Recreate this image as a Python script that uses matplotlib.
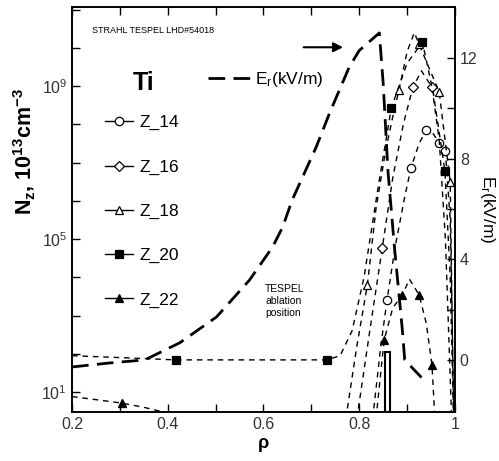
import numpy as np
import matplotlib
matplotlib.use('Agg')
import matplotlib.pyplot as plt
from matplotlib.lines import Line2D
from matplotlib.ticker import FixedLocator, NullFormatter, LogFormatterMathtext

plt.rcParams['font.family'] = ['Liberation Sans', 'DejaVu Sans']
plt.rcParams['mathtext.default'] = 'regular'


### Data (rho, log10 of N_z in 1e13 cm^-3)

z14_rho = [0.828, 0.845, 0.858, 0.875, 0.895, 0.908, 0.925, 0.940, 0.955, 0.967, 0.980, 0.990, 0.998]
z14_logn = [0.3, 2.2, 3.4, 4.8, 6.1, 6.86, 7.5, 7.85, 7.75, 7.5, 7.3, 5.5, 0.3]
z14_marks = [2, 5, 7, 9, 10]

z16_rho = [0.795, 0.822, 0.848, 0.870, 0.892, 0.912, 0.930, 0.952, 0.967, 0.980, 0.993]
z16_logn = [0.3, 2.6, 4.76, 6.6, 8.0, 8.97, 9.4, 8.97, 7.6, 5.0, 0.3]
z16_marks = [2, 5, 7]

z18_rho = [0.772, 0.795, 0.817, 0.835, 0.855, 0.870, 0.883, 0.900, 0.915, 0.925, 0.945, 0.967, 0.990, 0.997]
z18_logn = [0.3, 2.2, 3.8, 5.8, 7.3, 8.2, 8.9, 9.9, 10.4, 10.1, 9.5, 8.85, 6.5, 0.3]
z18_marks = [2, 6, 9, 11, 12]

z20_rho = [0.2, 0.30, 0.417, 0.55, 0.65, 0.733, 0.76, 0.785, 0.81, 0.84, 0.867, 0.90, 0.932, 0.955, 0.979, 0.99, 0.997]
z20_logn = [1.95, 1.9, 1.84, 1.84, 1.84, 1.84, 1.95, 2.6, 4.0, 6.4, 8.43, 9.6, 10.15, 8.8, 6.78, 4.0, 0.3]
z20_marks = [2, 5, 10, 12, 14]

# Z_22 falls below the axis between core and edge
z22_core_rho = [0.2, 0.25, 0.304, 0.35, 0.39, 0.42]
z22_core_logn = [0.88, 0.8, 0.71, 0.6, 0.48, 0.3]
z22_core_marks = [2]
z22_edge_rho = [0.835, 0.852, 0.870, 0.890, 0.905, 0.925, 0.940, 0.952, 0.958]
z22_edge_logn = [0.3, 2.36, 3.2, 3.54, 3.95, 3.54, 2.8, 1.7, 0.3]
z22_edge_marks = [1, 3, 5, 7]

# Radial electric field, kV/m
er_rho = [0.2, 0.279, 0.352, 0.425, 0.502, 0.571, 0.619, 0.64, 0.66, 0.71, 0.738,
          0.779, 0.80, 0.842, 0.85, 0.86, 0.873, 0.88, 0.89, 0.895, 0.93]
er_kvm = [-0.28, -0.12, 0.0, 0.68, 1.71, 3.18, 4.49, 5.28, 6.36, 8.46, 9.81,
          11.64, 12.3, 13.0, 11.0, 7.5, 4.6, 3.2, 1.2, 0.0, -0.7]

tespel_rho = 0.859
tespel_top = 0.3


### Plot

fig = plt.figure(figsize=(4.99, 4.61), dpi=100)
ax = fig.add_axes([0.1443, 0.1063, 0.7675, 0.8785])
ax2 = ax.twinx()

zdash = (4, 3.5)
series = [
    ('Z_14', z14_rho, z14_logn, z14_marks, 'o', 'white'),
    ('Z_16', z16_rho, z16_logn, z16_marks, 'D', 'white'),
    ('Z_18', z18_rho, z18_logn, z18_marks, '^', 'white'),
    ('Z_20', z20_rho, z20_logn, z20_marks, 's', 'black'),
    ('Z_22', z22_edge_rho, z22_edge_logn, z22_edge_marks, '^', 'black'),
]
handles = []
for name, rho, logn, marks, mk, fc in series:
    ms = 5 if mk == 'D' else 6
    ax.plot(rho, 10 ** np.array(logn), color='black', lw=1.0, dashes=zdash,
            marker=mk, markevery=marks, ms=ms, mfc=fc, mec='black', mew=0.9)
    handles.append(Line2D([], [], color='black', lw=1.0, marker=mk, ms=ms,
                          mfc=fc, mec='black', mew=0.9))
ax.plot(z22_core_rho, 10 ** np.array(z22_core_logn), color='black', lw=1.0, dashes=zdash,
        marker='^', markevery=z22_core_marks, ms=6, mfc='black', mec='black')

ax.set_yscale('log')
ax.set_xlim(0.2, 1.0)
ax.set_ylim(10 ** 0.477, 10 ** 11.07)
ax.xaxis.set_major_locator(FixedLocator([0.2, 0.4, 0.6, 0.8, 1.0]))
ax.xaxis.set_minor_locator(FixedLocator([0.3, 0.5, 0.7, 0.9]))
ax.set_xticklabels(['0.2', '0.4', '0.6', '0.8', '1'])
ax.yaxis.set_major_locator(FixedLocator([1e1, 1e5, 1e9]))
ax.yaxis.set_minor_locator(FixedLocator([10.0 ** k for k in range(0, 12)]))
ax.yaxis.set_major_formatter(LogFormatterMathtext())
ax.yaxis.set_minor_formatter(NullFormatter())
ax.tick_params(which='both', direction='in', length=6, width=1, top=True,
               labelsize=11.5, labelcolor='#333333')
ax.set_xlabel('ρ', fontsize=13, fontweight='bold', labelpad=2)
ax.set_ylabel('N$_z$, 10$^{13}$cm$^{-3}$', fontsize=15.5, fontweight='bold')
ax.yaxis.set_label_coords(-0.089, 0.644)

# Er on the right axis
er_line, = ax2.plot(er_rho, er_kvm, color='black', lw=2.0, dashes=(6, 3))
ax2.bar(tespel_rho, tespel_top + 2.07, bottom=-2.07, width=0.011,
        facecolor='white', edgecolor='black', lw=1.5)
ax2.annotate('', xy=(0.772, 12.43), xytext=(0.678, 12.43),
             arrowprops=dict(arrowstyle='-|>', color='black', lw=1.5,
                             mutation_scale=14))
ax2.set_ylim(-2.07, 14.03)
ax2.yaxis.set_major_locator(FixedLocator([0, 4, 8, 12]))
ax2.yaxis.set_minor_locator(FixedLocator([2, 6, 10]))
ax2.tick_params(which='both', direction='in', length=6, width=1,
                labelsize=11.5, labelcolor='#333333')
ax2.set_ylabel('E$_r$(kV/m)', fontsize=12.5, rotation=270, labelpad=14)

for a in (ax, ax2):
    for sp in a.spines.values():
        sp.set_linewidth(1.2)

ax.text(0.188, 0.812, 'Ti', transform=ax.transAxes, fontsize=18,
        fontweight='bold', ha='center', va='center')
ax.legend(handles, [s[0] for s in series], loc='upper left',
          bbox_to_anchor=(0.086, 0.733), frameon=False, borderpad=0, borderaxespad=0,
          handlelength=1.6, handletextpad=0.4, labelspacing=1.67, fontsize=12.5)
ax2.legend([er_line], ['E$_r$(kV/m)'], loc='upper left', bbox_to_anchor=(0.355, 0.845),
           frameon=False, borderpad=0, borderaxespad=0, handlelength=2.4,
           handletextpad=0.3, fontsize=12.5)

ax.text(0.052, 0.943, 'STRAHL TESPEL LHD#54018', transform=ax.transAxes,
        fontsize=6.5, va='center', ha='left')
ax.text(0.504, 0.315, 'TESPEL\nablation\nposition', transform=ax.transAxes,
        fontsize=7.5, va='top', ha='left', linespacing=1.25)

fig.savefig('out.png', dpi=100)
